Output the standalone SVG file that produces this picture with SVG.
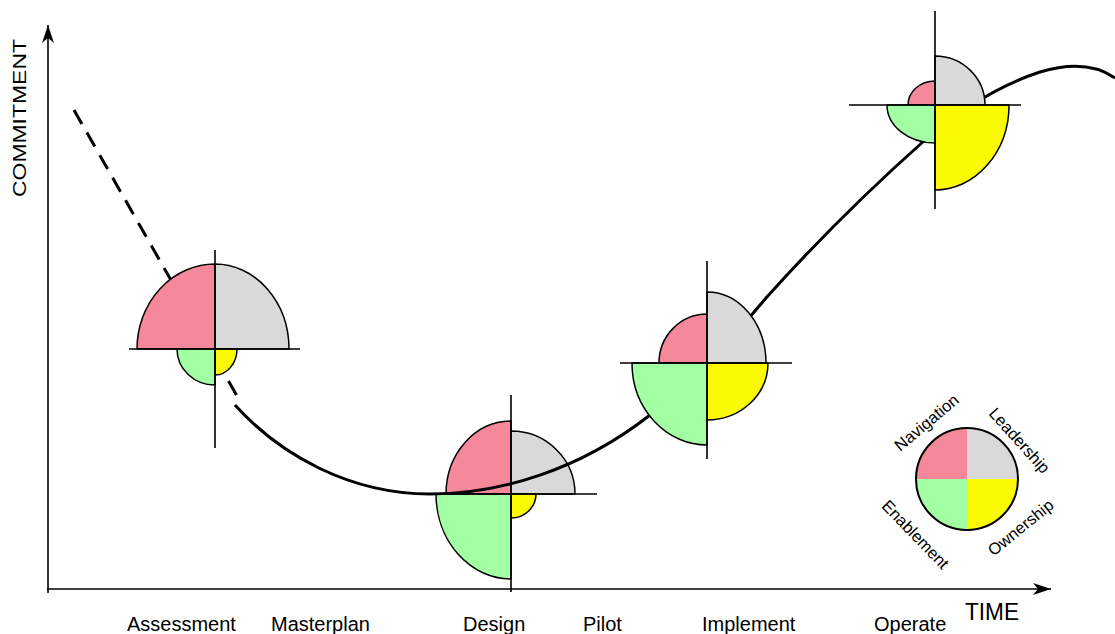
<svg xmlns="http://www.w3.org/2000/svg" width="1115" height="634" viewBox="0 0 1115 634">
  <style>
    .nav { fill: #F5899B; }
    .lead { fill: #D9D9D9; }
    .enab { fill: #A3FFA3; }
    .own { fill: #FAFA00; }
    .sector { stroke: #000; stroke-width: 1.5; stroke-linejoin: round; }
    .cross { fill: none; stroke: #000; stroke-width: 1.6; }
    .axis { fill: none; stroke: #000; stroke-width: 1.6; }
    .curve { fill: none; stroke: #000; stroke-width: 3; }
    .dashed { stroke-dasharray: 16 10; }
    text { font-family: "Liberation Sans", Arial, sans-serif; fill: #000; }
    .phase { font-size: 20px; }
    .leg { font-size: 16.5px; }
  </style>
  <defs>
    <marker id="arrow" viewBox="-18 -7 19 14" refX="0" refY="0" markerWidth="19" markerHeight="14" markerUnits="userSpaceOnUse" orient="auto">
      <path d="M0,0 L-18,-6 L-13,0 L-18,6 Z" fill="#000"/>
    </marker>
  </defs>

  <rect width="1115" height="634" fill="#fff"/>

  <!-- axes and their labels -->
  <g id="axes">
    <path class="axis" d="M48,593 V25" marker-end="url(#arrow)"/>
    <path class="axis" d="M47,589 H1051" marker-end="url(#arrow)"/>
    <text transform="translate(25.5,197) rotate(-90)" font-size="17.5" textLength="158" lengthAdjust="spacingAndGlyphs">COMMITMENT</text>
    <text x="965" y="620" font-size="23" textLength="54" lengthAdjust="spacingAndGlyphs">TIME</text>
  </g>

  <!-- phase labels along the time axis -->
  <g id="phases" class="phase">
    <text x="127" y="631">Assessment</text>
    <text x="271" y="631">Masterplan</text>
    <text x="463" y="631">Design</text>
    <text x="583" y="631">Pilot</text>
    <text x="702" y="631">Implement</text>
    <text x="874" y="631">Operate</text>
  </g>

  <!-- Design stage glyph (sits beneath the curve) -->
  <g id="glyph-design">
    <path class="sector nav" d="M511,494 H446 A65 73 0 0 1 511,421 Z"/>
    <path class="sector lead" d="M511,494 V431 A64 63 0 0 1 575,494 Z"/>
    <path class="sector own" d="M511,494 H536 A25 24 0 0 1 511,518 Z"/>
    <path class="sector enab" d="M511,494 V579 A75 85 0 0 1 436,494 Z"/>
    <path class="cross" d="M425,494 H597 M511,395 V592"/>
  </g>

  <!-- commitment curve -->
  <g id="connectors">
    <path class="curve dashed" d="M74,110 L241,403"/>
    <path class="curve" d="M235,405 C280,455 350,494 430,494 C500,494 580,470 650,415 C700,375 735,335 766,298 C818,240 880,180 925,140 C960,110 1000,85 1040,72 C1070,63 1095,64 1115,78"/>
  </g>

  <!-- Assessment stage glyph -->
  <g id="glyph-assessment">
    <path class="sector nav" d="M215,349 H137 A78 85 0 0 1 215,264 Z"/>
    <path class="sector lead" d="M215,349 V264 A74 85 0 0 1 289,349 Z"/>
    <path class="sector own" d="M215,349 H237 A22 26 0 0 1 215,375 Z"/>
    <path class="sector enab" d="M215,349 V385 A38 36 0 0 1 177,349 Z"/>
    <path class="cross" d="M129,349 H300 M215,250 V448"/>
  </g>

  <!-- Implement stage glyph -->
  <g id="glyph-implement">
    <path class="sector nav" d="M707,363 H659 A48 49 0 0 1 707,314 Z"/>
    <path class="sector lead" d="M707,363 V292 A59 71 0 0 1 766,363 Z"/>
    <path class="sector own" d="M707,363 H768 A61 57 0 0 1 707,420 Z"/>
    <path class="sector enab" d="M707,363 V445 A75 82 0 0 1 632,363 Z"/>
    <path class="cross" d="M620,363 H792 M707,261 V459"/>
  </g>

  <!-- Operate stage glyph -->
  <g id="glyph-operate">
    <path class="sector nav" d="M935,105 H908 A27 24 0 0 1 935,81 Z"/>
    <path class="sector lead" d="M935,105 V56 A50 49 0 0 1 985,105 Z"/>
    <path class="sector own" d="M935,105 H1009 A74 85 0 0 1 935,190 Z"/>
    <path class="sector enab" d="M935,105 V143 A48 38 0 0 1 887,105 Z"/>
    <path class="cross" d="M849,105 H1021 M935,11 V209"/>
  </g>

  <!-- legend -->
  <g id="legend">
    <path class="nav" d="M967,479 H916 A51 51 0 0 1 967,428 Z"/>
    <path class="lead" d="M967,479 V428 A51 51 0 0 1 1018,479 Z"/>
    <path class="own" d="M967,479 H1018 A51 51 0 0 1 967,530 Z"/>
    <path class="enab" d="M967,479 V530 A51 51 0 0 1 916,479 Z"/>
    <circle cx="967" cy="479" r="51" fill="none" stroke="#000" stroke-width="2"/>
    <g class="leg" text-anchor="middle">
      <text transform="translate(927,423) rotate(-40)" y="5">Navigation</text>
      <text transform="translate(1019,441) rotate(48)" y="5">Leadership</text>
      <text transform="translate(915,535) rotate(46)" y="5">Enablement</text>
      <text transform="translate(1021,528) rotate(-39)" y="5">Ownership</text>
    </g>
  </g>
</svg>
